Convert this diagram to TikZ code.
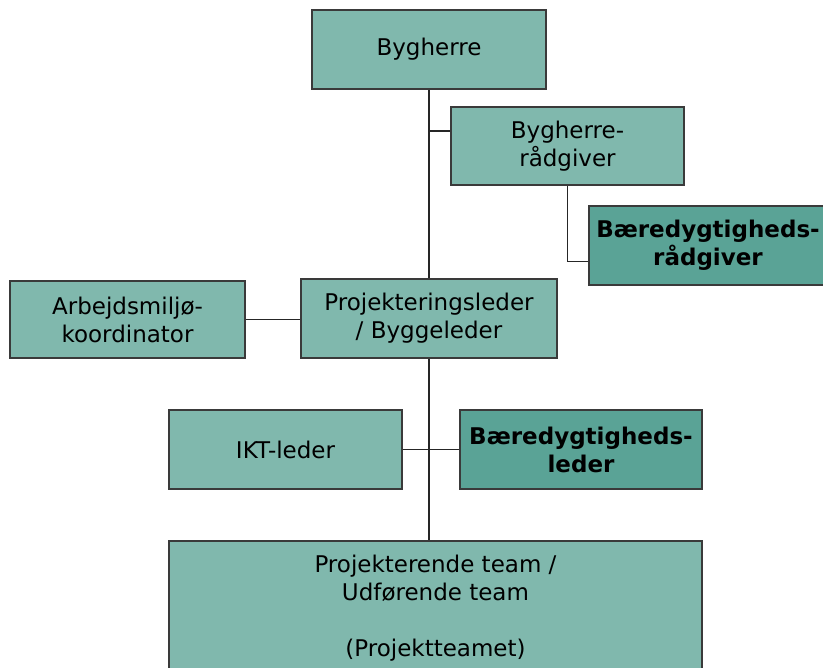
\documentclass[tikz,border=0pt]{standalone}
\usepackage{fontspec}
\setmainfont{DejaVu Sans}
\usepackage{tikz}
\usetikzlibrary{positioning}
\definecolor{tealA}{HTML}{80B8AD}
\definecolor{tealB}{HTML}{5AA396}
\definecolor{edge}{HTML}{3A3A3A}

\begin{document}
\begin{tikzpicture}[x=1pt, y=-1pt,
  box/.style={draw=edge, line width=2pt, fill=tealA, align=center, inner sep=0pt,
    font=\fontsize{23}{28}\selectfont},
  keybox/.style={box, fill=tealB, font=\fontsize{23}{28}\selectfont\bfseries},
  link/.style={black!85, line width=1.2pt}]
  \useasboundingbox (0,0) rectangle (823,668);
  \clip (0,0) rectangle (823,668);
  \node[box, minimum width=234pt, minimum height=79pt] (herre) at (429,49.5) {Bygherre};
  \node[box, minimum width=233pt, minimum height=78pt] (raad) at (567.5,146) {Bygherre-\\rådgiver};
  \node[keybox, minimum width=238pt, minimum height=79pt] (baerraad) at (708,245.5) {Bæredygtigheds-\\rådgiver};
  \node[box, minimum width=235pt, minimum height=77pt] (arb) at (127.5,319.5) {Arbejdsmiljø-\\koordinator};
  \node[box, minimum width=256pt, minimum height=79pt] (proj) at (429,318.5) {Projekteringsleder\\/ Byggeleder};
  \node[box, minimum width=233pt, minimum height=79pt] (ikt) at (285.5,449.5) {IKT-leder};
  \node[keybox, minimum width=242pt, minimum height=79pt] (baerled) at (581,449.5) {Bæredygtigheds-\\leder};
  \node[box, minimum width=533pt, minimum height=134pt] (team) at (435.5,608) {Projekterende team /\\Udførende team\\[28pt](Projektteamet)};
  \coordinate (fork) at (429,131);
  \draw[link] (herre.south) -- (proj.north);
  \draw[link] (fork) -- (fork -| raad.west);
  \draw[link] (raad.south) |- ([yshift=-16pt]baerraad.west);
  \draw[link] (arb.east) -- (arb.east -| proj.west);
  \draw[link] (proj.south) -- (proj.south |- team.north);
  \draw[link] (ikt.east) -- (baerled.west);
\end{tikzpicture}
\end{document}
